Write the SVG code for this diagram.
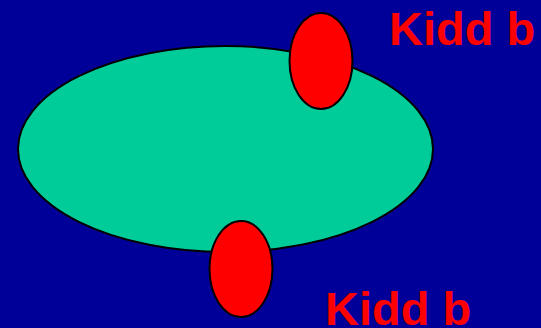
<svg xmlns="http://www.w3.org/2000/svg" width="541" height="328" viewBox="0 0 541 328">
<style>
.shape{stroke:#000;stroke-width:2}
.red{fill:#FF0000}
.label{font-family:"Liberation Sans",Arial,sans-serif;font-weight:bold;font-size:47px;fill:#FF0000}
</style>
<rect x="0" y="0" width="541" height="328" fill="#000099"/>
<g id="body">
<ellipse class="shape" cx="225.5" cy="149" rx="207.5" ry="103" fill="#00CC99"/>
</g>
<g id="kidd-top">
<ellipse class="shape red" cx="321" cy="61" rx="31.5" ry="48"/>
</g>
<g id="kidd-bottom">
<ellipse class="shape red" cx="241" cy="269" rx="31.5" ry="48"/>
</g>
<g id="connectors"></g>
<text class="label" x="389" y="45">Kidd b</text>
<text class="label" x="325" y="325">Kidd b</text>
</svg>
